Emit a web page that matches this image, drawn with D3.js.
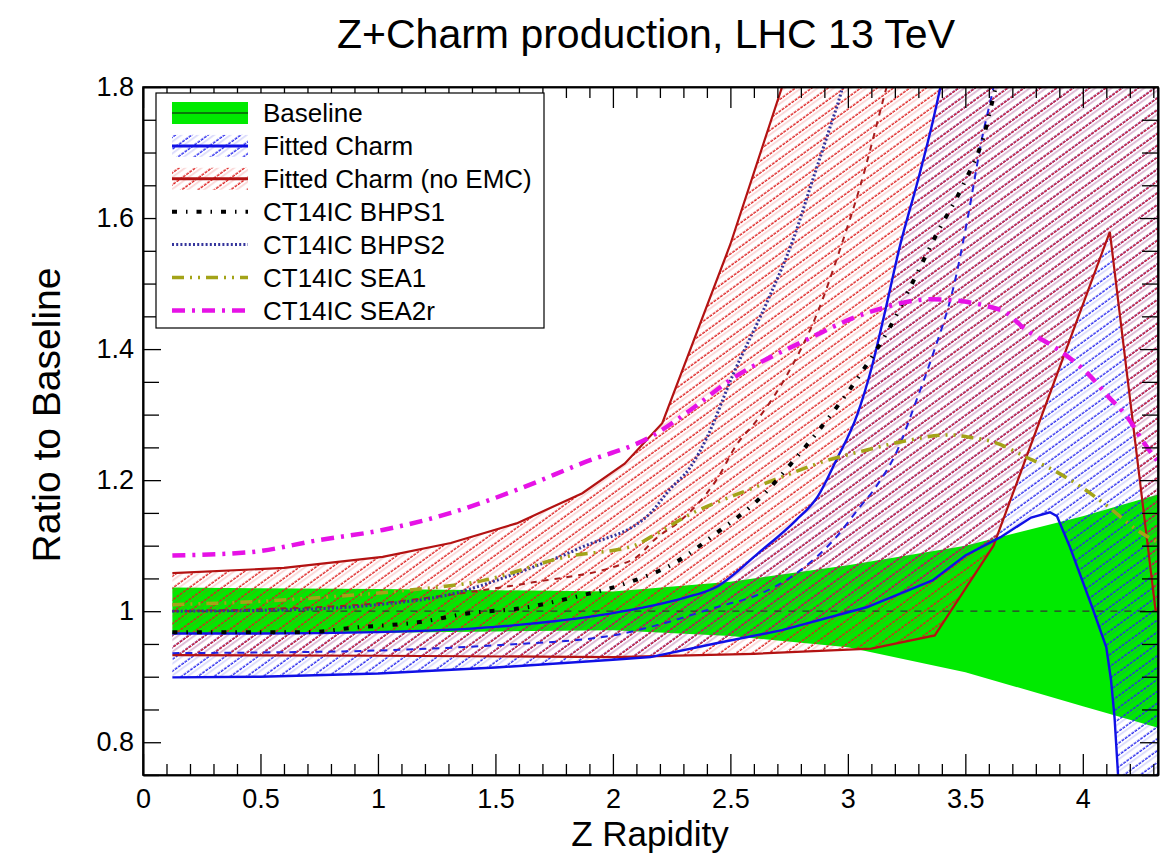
<!DOCTYPE html>
<html>
<head>
<meta charset="utf-8">
<script src="https://cdn.jsdelivr.net/npm/d3@7"></script>
<style>
  body { margin: 0; background: #fff; }
  svg { display: block; }
  text { font-family: "Liberation Sans", Arial, Helvetica, sans-serif; fill: #000; }
</style>
</head>
<body>
<svg id="chart" width="1165" height="853"></svg>
<script>
// ---------------- data ----------------
// Baseline uncertainty band (ratio to itself)
const baseX  = [0.125, 0.5, 1.0, 1.5, 2.0, 2.5, 3.0, 3.5, 4.0, 4.32];
const baseHi = [1.036, 1.035, 1.034, 1.032, 1.030, 1.045, 1.070, 1.100, 1.145, 1.178];
const baseLo = [0.965, 0.966, 0.967, 0.969, 0.971, 0.962, 0.945, 0.907, 0.855, 0.822];

// Fitted charm: central value and band edges
const fitCenX = [0.125, 0.5, 1.0, 1.5, 2.0, 2.16, 2.44, 2.63, 2.8, 2.95, 3.04, 3.12, 3.21, 3.29, 3.36, 3.45, 3.51, 3.57, 3.62, 3.67];
const fitCen  = [0.936, 0.937, 0.940, 0.948, 0.963, 0.976, 1.006, 1.027, 1.063, 1.113, 1.154, 1.190, 1.245, 1.320, 1.390, 1.495, 1.600, 1.720, 1.800, 1.890];
const fitHiX  = [0.125, 0.5, 1.0, 1.5, 2.0, 2.12, 2.3, 2.44, 2.62, 2.78, 2.87, 2.95, 3.04, 3.1, 3.16, 3.22, 3.3, 3.36, 3.4, 3.45];
const fitHi   = [0.966, 0.966, 0.968, 0.976, 0.997, 1.005, 1.020, 1.037, 1.089, 1.139, 1.174, 1.230, 1.300, 1.370, 1.460, 1.555, 1.660, 1.745, 1.810, 1.900];
const fitLoX  = [0.125, 0.5, 1.0, 1.5, 2.0, 2.16, 2.44, 2.72, 3.08, 3.36, 3.5, 3.65, 3.78, 3.86, 3.89, 3.945, 4.04, 4.1, 4.12, 4.135, 4.15, 4.165];
const fitLo   = [0.899, 0.900, 0.905, 0.914, 0.926, 0.930, 0.951, 0.971, 1.006, 1.047, 1.085, 1.113, 1.143, 1.151, 1.145, 1.098, 1.006, 0.945, 0.895, 0.838, 0.750, 0.680];

// Fitted charm without EMC data: central value and band edges
const nemcCenX = [0.125, 0.5, 1.0, 1.5, 1.66, 2.08, 2.19, 2.29, 2.44, 2.53, 2.61, 2.74, 2.87, 2.97, 3.06, 3.15, 3.21];
const nemcCen  = [1.000, 1.003, 1.012, 1.035, 1.044, 1.078, 1.113, 1.139, 1.200, 1.256, 1.290, 1.360, 1.455, 1.556, 1.658, 1.780, 1.860];
const nemcHiX  = [0.125, 0.6, 1.02, 1.31, 1.59, 1.87, 2.05, 2.21, 2.5, 2.72, 2.8];
const nemcHi   = [1.058, 1.066, 1.083, 1.104, 1.134, 1.180, 1.225, 1.287, 1.560, 1.800, 1.880];
const nemcLoX  = [0.125, 1.0, 2.0, 2.6, 3.1, 3.37, 3.62, 4.115, 4.31];
const nemcLo   = [0.933, 0.932, 0.930, 0.935, 0.943, 0.963, 1.100, 1.579, 1.000];

// CT14 intrinsic-charm PDFs
const bhps1X = [0.125, 0.7, 0.9, 1.17, 1.39, 1.62, 1.83, 2.06, 2.26, 2.44, 2.63, 2.77, 2.92, 3.05, 3.18, 3.28, 3.38, 3.49, 3.58, 3.63, 3.7];
const bhps1  = [0.968, 0.968, 0.975, 0.983, 0.997, 1.005, 1.021, 1.043, 1.073, 1.119, 1.174, 1.230, 1.296, 1.360, 1.434, 1.505, 1.577, 1.650, 1.727, 1.800, 1.880];
const bhps2X = [0.125, 0.6, 1.0, 1.3, 1.59, 1.87, 2.16, 2.24, 2.33, 2.4, 2.51, 2.66, 2.77, 2.85, 2.92, 2.97, 3.02];
const bhps2  = [1.000, 1.002, 1.010, 1.025, 1.058, 1.098, 1.150, 1.185, 1.220, 1.265, 1.360, 1.475, 1.570, 1.658, 1.734, 1.790, 1.860];
const sea1X  = [0.125, 0.5, 0.8, 1.1, 1.45, 1.8, 2.09, 2.16, 2.34, 2.54, 2.72, 2.91, 3.08, 3.26, 3.43, 3.51, 3.63, 3.76, 3.85, 3.97, 4.11, 4.23, 4.32];
const sea1   = [1.010, 1.015, 1.022, 1.031, 1.047, 1.083, 1.100, 1.113, 1.150, 1.180, 1.205, 1.230, 1.246, 1.261, 1.269, 1.266, 1.257, 1.235, 1.220, 1.195, 1.159, 1.124, 1.105];
const sea2X  = [0.125, 0.455, 0.74, 1.02, 1.31, 1.59, 1.87, 2.16, 2.33, 2.5, 2.8, 3.08, 3.36, 3.65, 3.76, 3.9, 4.02, 4.11, 4.19, 4.26, 4.32];
const sea2   = [1.085, 1.090, 1.108, 1.124, 1.150, 1.185, 1.226, 1.266, 1.307, 1.353, 1.410, 1.455, 1.476, 1.460, 1.429, 1.398, 1.363, 1.327, 1.296, 1.257, 1.228];

// axis ticks and legend labels
const xTickVals = [0, 0.5, 1, 1.5, 2, 2.5, 3, 3.5, 4];
const yTickVals = [0.8, 1.0, 1.2, 1.4, 1.6, 1.8];
const legendLabels = ["Baseline", "Fitted Charm", "Fitted Charm (no EMC)", "CT14IC BHPS1",
                      "CT14IC BHPS2", "CT14IC SEA1", "CT14IC SEA2r"];

// ---------------- layout ----------------
const svg = d3.select("#chart");
const frame = { left: 143, right: 1158, top: 87, bottom: 775 };
const x = d3.scaleLinear().domain([0, 4.32]).range([frame.left, frame.right]);
const y = d3.scaleLinear().domain([0.75, 1.8]).range([frame.bottom, frame.top]);

const defs = svg.append("defs");
defs.append("clipPath").attr("id", "plotClip")
  .append("rect")
  .attr("x", frame.left).attr("y", frame.top)
  .attr("width", frame.right - frame.left).attr("height", frame.bottom - frame.top);

// diagonal hatch patterns (lines rising to the right)
function hatch(id, strong, faint) {
  const p = defs.append("pattern").attr("id", id)
    .attr("patternUnits", "userSpaceOnUse")
    .attr("width", 12).attr("height", 9.6)
    .attr("patternTransform", "rotate(-36)");
  p.append("line").attr("x1", 0).attr("x2", 12).attr("y1", 4.6).attr("y2", 4.6)
    .attr("stroke", faint).attr("stroke-width", 1.7);
  p.append("line").attr("x1", 0).attr("x2", 12).attr("y1", 1.2).attr("y2", 1.2)
    .attr("stroke", strong).attr("stroke-width", 1.3).attr("stroke-dasharray", "3 1");
}
hatch("hatchBlue", "#2a2aee", "rgba(60,60,235,0.2)");
hatch("hatchRed", "#de2020", "rgba(230,40,40,0.2)");

const pts = (xs, ys) => xs.map((v, i) => [v, ys[i]]);
const line = d3.line().x(d => x(d[0])).y(d => y(d[1]));
const smooth = d3.line().x(d => x(d[0])).y(d => y(d[1])).curve(d3.curveMonotoneX);

// closed band outline: upper edge forward, then around the outside, then lower edge back
const [x0, x1] = x.domain(), [y0, y1] = y.domain();
function bandPath(upper, lower, viaTop) {
  const hi = upper.slice(), lo = lower.slice().reverse();
  const far = x1 + 1, top = y1 + 1, bottom = y0 - 1;
  const outside = [];
  if (viaTop) outside.push([hi[hi.length - 1][0], top], [far, top]);
  outside.push([far, lo[0][1] < y0 ? bottom : lo[0][1]]);
  if (lo[0][1] < y0) outside.push([lo[0][0], bottom]);
  return line(hi.concat(outside, lo)) + "Z";
}

const plot = svg.append("g").attr("clip-path", "url(#plotClip)");

// baseline band
plot.append("path")
  .attr("d", d3.area().x(d => x(d[0])).y0(d => y(d[2])).y1(d => y(d[1]))(baseX.map((v, i) => [v, baseHi[i], baseLo[i]])))
  .attr("fill", "#00ea00");

// fitted-charm band (blue hatch) and no-EMC band (red hatch)
plot.append("path")
  .attr("d", bandPath(pts(fitHiX, fitHi), pts(fitLoX, fitLo), true))
  .attr("fill", "url(#hatchBlue)");
plot.append("path")
  .attr("d", bandPath(pts(nemcHiX, nemcHi), pts(nemcLoX, nemcLo), true))
  .attr("fill", "url(#hatchRed)");

// ratio = 1 reference
plot.append("line")
  .attr("x1", x(0.125)).attr("x2", x(x1)).attr("y1", y(1)).attr("y2", y(1))
  .attr("stroke", "#333").attr("stroke-width", 1.2).attr("stroke-dasharray", "7 7");

const curves = [
  { d: pts(nemcLoX, nemcLo), gen: line, color: "#b31212", w: 2.2, dash: null },
  { d: pts(nemcHiX, nemcHi), gen: line, color: "#b31212", w: 2.2, dash: null },
  { d: pts(nemcCenX, nemcCen), gen: smooth, color: "#a81c1c", w: 2, dash: "6 6" },
  { d: pts(fitLoX, fitLo), gen: line, color: "#1010e6", w: 2.4, dash: null },
  { d: pts(fitHiX, fitHi), gen: smooth, color: "#1010e6", w: 2.4, dash: null },
  { d: pts(fitCenX, fitCen), gen: smooth, color: "#2020e0", w: 2, dash: "7 6" },
  { d: pts(bhps2X, bhps2), gen: smooth, color: "#34349c", w: 3, dash: "2 2.2" },
  { d: pts(sea1X, sea1), gen: smooth, color: "#a3a318", w: 3.5, dash: "12 6 2 6 2 6" },
  { d: pts(bhps1X, bhps1), gen: smooth, color: "#000", w: 4, dash: "5 9 1.5 9" },
  { d: pts(sea2X, sea2), gen: smooth, color: "#e612e6", w: 4.5, dash: "13 7 3 7" }
];
curves.forEach(c => {
  plot.append("path").attr("d", c.gen(c.d))
    .attr("fill", "none").attr("stroke", c.color).attr("stroke-width", c.w)
    .attr("stroke-dasharray", c.dash);
});

// ---------------- axes ----------------
const fmt = d => Number.isInteger(d) ? String(d) : d3.format(".1f")(d);
const xMinor = d3.range(0, 4.32, 0.1).map(v => +v.toFixed(2)).filter(v => Math.abs(v * 2 - Math.round(v * 2)) > 1e-6);
const yMinor = d3.range(0.75, 1.8001, 0.05).map(v => +v.toFixed(2)).filter(v => !yTickVals.some(t => Math.abs(t - v) < 1e-6));

function styleAxis(g) {
  g.select(".domain").attr("stroke", "#000").attr("stroke-width", 1.6);
  g.selectAll(".tick line").attr("stroke", "#000").attr("stroke-width", 1.3);
  g.selectAll("text").attr("font-size", 27).attr("font-family", "Liberation Sans, Arial, sans-serif");
}

svg.append("g").attr("transform", `translate(0,${frame.bottom})`)
  .call(d3.axisBottom(x).tickValues(xTickVals).tickFormat(fmt).tickSizeInner(-21).tickSizeOuter(0).tickPadding(14))
  .call(styleAxis);
svg.append("g").attr("transform", `translate(0,${frame.bottom})`)
  .call(d3.axisBottom(x).tickValues(xMinor).tickFormat("").tickSizeInner(-11).tickSizeOuter(0))
  .call(styleAxis);
svg.append("g").attr("transform", `translate(0,${frame.top})`)
  .call(d3.axisTop(x).tickValues(xTickVals).tickFormat("").tickSizeInner(-21).tickSizeOuter(0))
  .call(styleAxis);
svg.append("g").attr("transform", `translate(0,${frame.top})`)
  .call(d3.axisTop(x).tickValues(xMinor).tickFormat("").tickSizeInner(-11).tickSizeOuter(0))
  .call(styleAxis);

svg.append("g").attr("transform", `translate(${frame.left},0)`)
  .call(d3.axisLeft(y).tickValues(yTickVals).tickFormat(fmt).tickSizeInner(-18).tickSizeOuter(0).tickPadding(9))
  .call(styleAxis);
svg.append("g").attr("transform", `translate(${frame.left},0)`)
  .call(d3.axisLeft(y).tickValues(yMinor).tickFormat("").tickSizeInner(-16).tickSizeOuter(0))
  .call(styleAxis);
svg.append("g").attr("transform", `translate(${frame.right},0)`)
  .call(d3.axisRight(y).tickValues(yTickVals).tickFormat("").tickSizeInner(-18).tickSizeOuter(0))
  .call(styleAxis);
svg.append("g").attr("transform", `translate(${frame.right},0)`)
  .call(d3.axisRight(y).tickValues(yMinor).tickFormat("").tickSizeInner(-16).tickSizeOuter(0))
  .call(styleAxis);

// ---------------- legend ----------------
const leg = svg.append("g");
const legBox = { x: 156, y: 93, w: 388, h: 235 };
leg.append("rect").attr("x", legBox.x).attr("y", legBox.y).attr("width", legBox.w).attr("height", legBox.h)
  .attr("fill", "#fff").attr("stroke", "#000").attr("stroke-width", 1.2);

const rowY = i => legBox.y + 20 + i * 32.9;
const sym = { x: 172, w: 76 };
const legendStyles = [
  { fill: "#00ea00", line: "#0a7a0a", w: 2, dash: null },
  { fill: "url(#hatchBlue)", line: "#1010e6", w: 3, dash: null },
  { fill: "url(#hatchRed)", line: "#b31212", w: 3, dash: null },
  { line: "#000", w: 4, dash: "5 9 1.5 9" },
  { line: "#34349c", w: 3, dash: "2 2.2" },
  { line: "#a3a318", w: 3.5, dash: "12 6 2 6 2 6" },
  { line: "#e612e6", w: 4.5, dash: "13 7 3 7" }
];
legendLabels.forEach((label, i) => {
  const cy = rowY(i), st = legendStyles[i];
  if (st.fill) {
    leg.append("rect").attr("x", sym.x).attr("y", cy - 11).attr("width", sym.w).attr("height", 22)
      .attr("fill", st.fill);
  }
  leg.append("line").attr("x1", sym.x).attr("x2", sym.x + sym.w).attr("y1", cy).attr("y2", cy)
    .attr("stroke", st.line).attr("stroke-width", st.w).attr("stroke-dasharray", st.dash);
  leg.append("text").attr("x", 263).attr("y", cy).attr("dy", "0.36em")
    .attr("font-size", 26).text(label);
});

// frame on top
svg.append("rect").attr("x", frame.left).attr("y", frame.top)
  .attr("width", frame.right - frame.left).attr("height", frame.bottom - frame.top)
  .attr("fill", "none").attr("stroke", "#000").attr("stroke-width", 1.6);

// ---------------- titles ----------------
svg.append("text").attr("x", 646).attr("y", 48).attr("text-anchor", "middle")
  .attr("font-size", 41).text("Z+Charm production, LHC 13 TeV");
svg.append("text").attr("x", 650).attr("y", 846).attr("text-anchor", "middle")
  .attr("font-size", 35).text("Z Rapidity");
svg.append("text").attr("transform", "translate(60,415) rotate(-90)").attr("text-anchor", "middle")
  .attr("font-size", 39).text("Ratio to Baseline");
</script>
</body>
</html>
